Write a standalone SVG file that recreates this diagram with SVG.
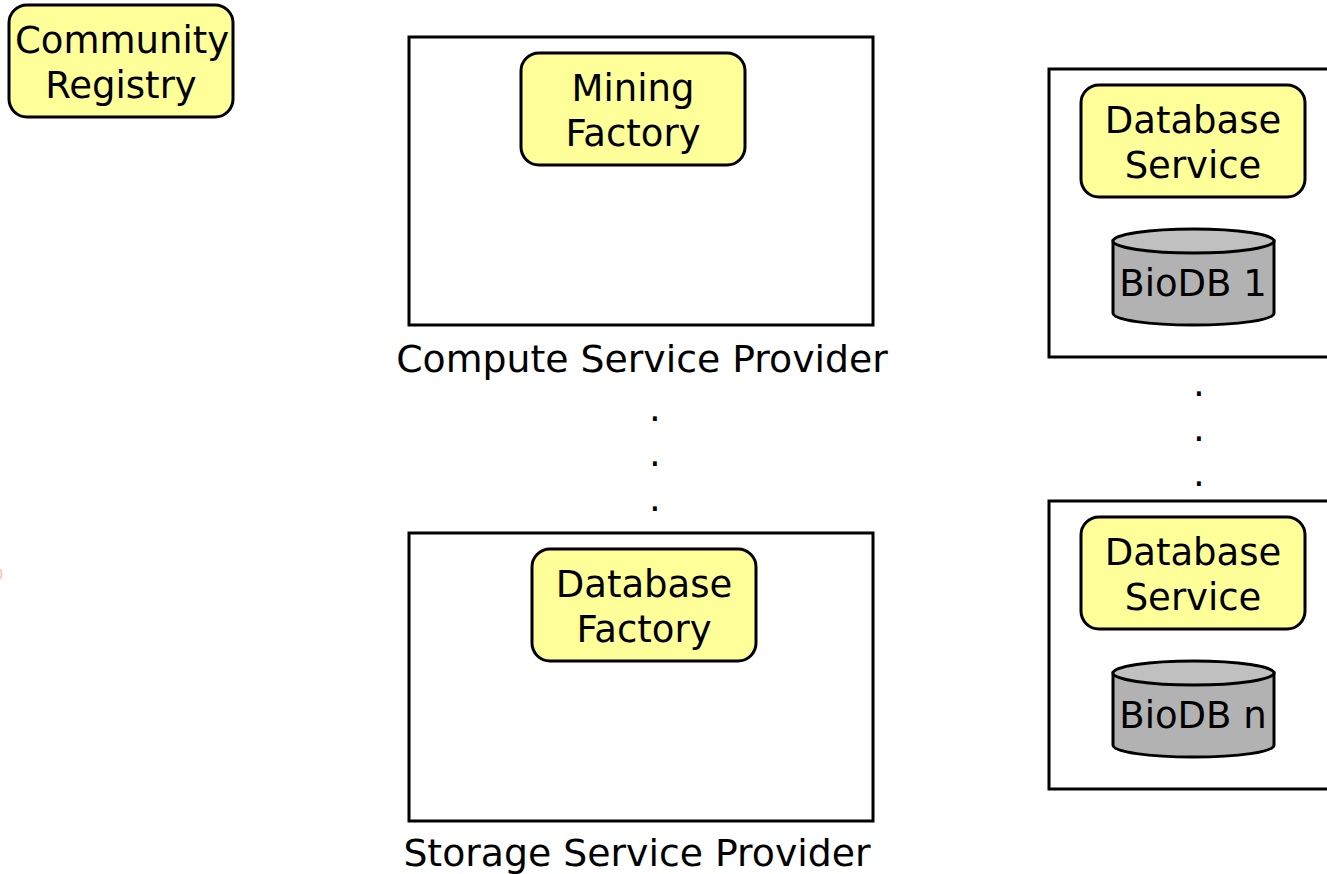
<svg xmlns="http://www.w3.org/2000/svg" width="1327" height="874" viewBox="0 0 1327 874">
<style>
.box{fill:#fff;stroke:#000;stroke-width:3}
.svc{fill:#ffff99;stroke:#000;stroke-width:3}
.cyl{fill:#b2b2b2;stroke:#000;stroke-width:3}
.top{fill:#c0c0c0;stroke:#000;stroke-width:3}
text{font-family:"DejaVu Sans",Verdana,sans-serif;font-size:37px;fill:#000;text-anchor:middle}
.cap{font-size:37.800px}
</style>
<rect width="1327" height="874" fill="#fff"/>
<path d="M0 569 Q3 574 0 579" fill="none" stroke="#ffc8c0" stroke-width="2"/>
<g id="community-registry"><rect class="svc" x="9" y="5" width="224" height="112" rx="18"/><text x="122" y="53">Community</text><text x="121" y="98">Registry</text></g>
<g id="compute-provider"><rect class="box" x="409" y="37" width="464" height="288"/><text class="cap" x="642" y="372">Compute Service Provider</text></g>
<g id="mining-factory"><rect class="svc" x="521" y="53" width="224" height="112" rx="18"/><text x="633" y="101">Mining</text><text x="633" y="146">Factory</text></g>
<g id="storage-provider"><rect class="box" x="409" y="533" width="464" height="288"/><text class="cap" x="637" y="866">Storage Service Provider</text></g>
<g id="database-factory"><rect class="svc" x="532" y="549" width="224" height="112" rx="18"/><text x="644" y="597">Database</text><text x="644" y="642">Factory</text></g>
<g id="dots-middle"><text x="655" y="421">.</text><text x="655" y="466">.</text><text x="655" y="511">.</text></g>
<g id="db-provider-1"><rect class="box" x="1049" y="69" width="300" height="288"/></g>
<g id="database-service-1"><rect class="svc" x="1081" y="85" width="224" height="112" rx="18"/><text x="1193" y="133">Database</text><text x="1193" y="178">Service</text></g>
<g id="biodb-1"><path class="cyl" d="M1113 241V313C1113 320 1149 325 1193.500 325S1274 320 1274 313V241Z"/><ellipse class="top" cx="1193.500" cy="241" rx="80.500" ry="12"/><text x="1193" y="296">BioDB 1</text></g>
<g id="dots-right"><text x="1199" y="396">.</text><text x="1199" y="441">.</text><text x="1199" y="486">.</text></g>
<g id="db-provider-n"><rect class="box" x="1049" y="501" width="300" height="288"/></g>
<g id="database-service-n"><rect class="svc" x="1081" y="517" width="224" height="112" rx="18"/><text x="1193" y="565">Database</text><text x="1193" y="610">Service</text></g>
<g id="biodb-n"><path class="cyl" d="M1113 673V745C1113 752 1149 757 1193.500 757S1274 752 1274 745V673Z"/><ellipse class="top" cx="1193.500" cy="673" rx="80.500" ry="12"/><text x="1193" y="728">BioDB n</text></g>
<g id="connectors"/>
</svg>
